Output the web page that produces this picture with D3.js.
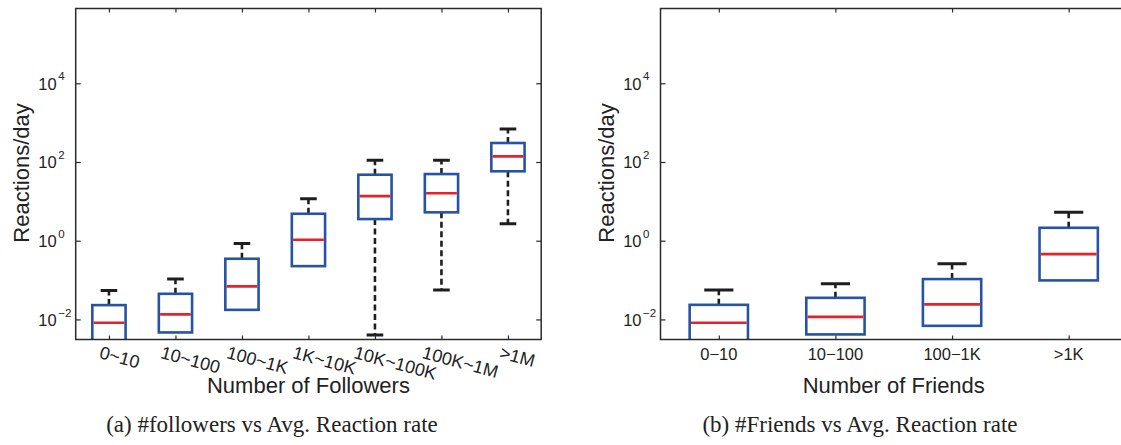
<!DOCTYPE html>
<html>
<head>
<meta charset="utf-8">
<script src="https://cdn.jsdelivr.net/npm/d3@7"></script>
<style>
  html, body { margin: 0; padding: 0; background: #fff; }
  svg { display: block; }
  .tick line { stroke: #2a2a2a; stroke-width: 1.2; }
</style>
</head>
<body>
<svg id="fig" width="1121" height="445"></svg>
<script>
// ---- Panel (a): reactions/day by number of followers ----
const followerCats = ["0~10", "10~100", "100~1K", "1K~10K", "10K~100K", "100K~1M", ">1M"];
const followerLowWhisker = [0.001, 0.00467, 0.0175, 0.226, 0.004, 0.0556, 2.70];
const followerQ1 = [0.002, 0.00467, 0.0175, 0.226, 3.55, 5.26, 58];
const followerMedian = [0.0082, 0.0134, 0.069, 1.06, 13.6, 16.0, 139];
const followerQ3 = [0.0231, 0.0448, 0.348, 4.84, 47.5, 49.4, 304];
const followerHighWhisker = [0.0546, 0.106, 0.855, 11.6, 110, 110, 690];

// ---- Panel (b): reactions/day by number of friends ----
const friendCats = ["0\u221210", "10\u2212100", "100\u22121K", ">1K"];
const friendLowWhisker = [0.001, 0.00416, 0.00688, 0.098];
const friendQ1 = [0.002, 0.00416, 0.00688, 0.098];
const friendMedian = [0.0082, 0.0116, 0.0241, 0.457];
const friendQ3 = [0.0235, 0.0354, 0.106, 2.13];
const friendHighWhisker = [0.0556, 0.0804, 0.259, 5.26];

// shared log axis
const yTickValues = [1e-2, 1e0, 1e2, 1e4];
const yTickExponents = ["\u22122", "0", "2", "4"];
const yDomain = [Math.pow(10, -2.51), Math.pow(10, 5.9)];

const BLUE = "#2653a3";
const RED = "#e8202a";
const INK = "#1e1e1e";
const SANS = "'Liberation Sans', Arial, Helvetica, sans-serif";

const svg = d3.select("#fig");

function panel(opts) {
  const { id, left, right, top, bottom, cats, lo, q1, med, q3, hi,
          yLabel, xLabel, caption, captionX, rotateTicks, yLabelX } = opts;

  const x = d3.scalePoint().domain(cats).range([left, right]).padding(0.5);
  const y = d3.scaleLog().domain(yDomain).range([bottom, top]);
  const step = x.step();
  const boxW = step * 0.5;
  const capW = step * 0.25;

  const g = svg.append("g");

  // clip marks to the axes box
  svg.append("clipPath").attr("id", id)
    .append("rect").attr("x", left).attr("y", top)
    .attr("width", right - left).attr("height", bottom - top);

  const marks = g.append("g").attr("clip-path", `url(#${id})`);

  const rows = cats.map((c, i) => ({ c, lo: lo[i], q1: q1[i], med: med[i], q3: q3[i], hi: hi[i] }));

  // whiskers (dashed)
  marks.selectAll("line.wu").data(rows).join("line")
    .attr("x1", d => x(d.c)).attr("x2", d => x(d.c))
    .attr("y1", d => y(d.q3)).attr("y2", d => y(d.hi))
    .attr("stroke", INK).attr("stroke-width", 2.6)
    .attr("stroke-dasharray", "6,3.5");
  marks.selectAll("line.wl").data(rows.filter(d => d.lo < d.q1)).join("line")
    .attr("x1", d => x(d.c)).attr("x2", d => x(d.c))
    .attr("y1", d => y(d.q1)).attr("y2", d => y(d.lo))
    .attr("stroke", INK).attr("stroke-width", 2.6)
    .attr("stroke-dasharray", "6,3.5");

  // whisker caps
  marks.selectAll("line.cu").data(rows).join("line")
    .attr("x1", d => x(d.c) - capW / 2).attr("x2", d => x(d.c) + capW / 2)
    .attr("y1", d => y(d.hi)).attr("y2", d => y(d.hi))
    .attr("stroke", INK).attr("stroke-width", 3);
  marks.selectAll("line.cl").data(rows.filter(d => d.lo < d.q1)).join("line")
    .attr("x1", d => x(d.c) - capW / 2).attr("x2", d => x(d.c) + capW / 2)
    .attr("y1", d => y(d.lo)).attr("y2", d => y(d.lo))
    .attr("stroke", INK).attr("stroke-width", 3);

  // boxes
  marks.selectAll("rect.box").data(rows).join("rect")
    .attr("x", d => x(d.c) - boxW / 2).attr("width", boxW)
    .attr("y", d => y(d.q3)).attr("height", d => y(d.q1) - y(d.q3))
    .attr("fill", "#fff").attr("stroke", BLUE).attr("stroke-width", 2.6);

  // medians
  marks.selectAll("line.med").data(rows).join("line")
    .attr("x1", d => x(d.c) - boxW / 2 + 1.3).attr("x2", d => x(d.c) + boxW / 2 - 1.3)
    .attr("y1", d => y(d.med)).attr("y2", d => y(d.med))
    .attr("stroke", RED).attr("stroke-width", 2.6);

  // axes: ticks point inward on all four sides
  const axL = g.append("g").attr("transform", `translate(${left},0)`)
    .call(d3.axisLeft(y).tickValues(yTickValues).tickSizeInner(-5).tickSizeOuter(0).tickFormat(""));
  const axR = g.append("g").attr("transform", `translate(${right},0)`)
    .call(d3.axisRight(y).tickValues(yTickValues).tickSizeInner(-5).tickSizeOuter(0).tickFormat(""));
  const axT = g.append("g").attr("transform", `translate(0,${top})`)
    .call(d3.axisTop(x).tickSizeInner(-4).tickSizeOuter(0).tickFormat(""));
  const axB = g.append("g").attr("transform", `translate(0,${bottom})`)
    .call(d3.axisBottom(x).tickSizeInner(-4).tickSizeOuter(0).tickFormat(""));
  [axL, axR, axT, axB].forEach(a => a.select(".domain").remove());

  // frame
  g.append("rect").attr("x", left).attr("y", top)
    .attr("width", right - left).attr("height", bottom - top)
    .attr("fill", "none").attr("stroke", "#2a2a2a").attr("stroke-width", 1.5);

  // y tick labels: 10 with a superscript exponent
  yTickValues.forEach((v, i) => {
    const ty = y(v);
    g.append("text").attr("x", left - 19).attr("y", ty + 6.5)
      .attr("text-anchor", "end").attr("font-family", SANS).attr("font-size", 16.5)
      .attr("fill", "#222").text("10");
    g.append("text").attr("x", left - 17.5).attr("y", ty - 2.8)
      .attr("font-family", SANS).attr("font-size", 11.5)
      .attr("fill", "#222").text(yTickExponents[i]);
  });

  // x tick labels
  cats.forEach(c => {
    const t = g.append("text").attr("font-family", SANS)
      .attr("font-size", rotateTicks ? 18 : 16.5)
      .attr("fill", "#222").text(c);
    if (rotateTicks) {
      const len = t.node().getComputedTextLength();
      const sx = x(c) - 0.26 * len, sy = 358;
      t.attr("x", sx).attr("y", sy).attr("transform", `rotate(15,${sx},${sy})`);
    } else {
      t.attr("x", x(c)).attr("y", 360).attr("text-anchor", "middle");
    }
  });

  // axis titles
  g.append("text").attr("x", (left + right) / 2).attr("y", 393)
    .attr("text-anchor", "middle").attr("font-family", SANS).attr("font-size", 22)
    .attr("fill", "#222").text(xLabel);
  g.append("text")
    .attr("transform", `translate(${yLabelX},${173}) rotate(-90)`)
    .attr("text-anchor", "middle").attr("font-family", SANS).attr("font-size", 22)
    .attr("fill", "#222").text(yLabel);

  // caption
  g.append("text").attr("x", captionX).attr("y", 432)
    .attr("text-anchor", "middle")
    .attr("font-family", "'Liberation Serif', 'Times New Roman', serif")
    .attr("font-size", 23).attr("fill", "#222").text(caption);
}

panel({
  id: "clipA", left: 75.7, right: 541.2, top: 8.5, bottom: 339.5,
  cats: followerCats, lo: followerLowWhisker, q1: followerQ1, med: followerMedian,
  q3: followerQ3, hi: followerHighWhisker,
  yLabel: "Reactions/day", xLabel: "Number of Followers",
  caption: "(a) #followers vs Avg. Reaction rate", captionX: 272,
  rotateTicks: true, yLabelX: 28.5
});

panel({
  id: "clipB", left: 660.5, right: 1127, top: 8.5, bottom: 339.5,
  cats: friendCats, lo: friendLowWhisker, q1: friendQ1, med: friendMedian,
  q3: friendQ3, hi: friendHighWhisker,
  yLabel: "Reactions/day", xLabel: "Number of Friends",
  caption: "(b) #Friends vs Avg. Reaction rate", captionX: 860,
  rotateTicks: false, yLabelX: 613.5
});
</script>
</body>
</html>
